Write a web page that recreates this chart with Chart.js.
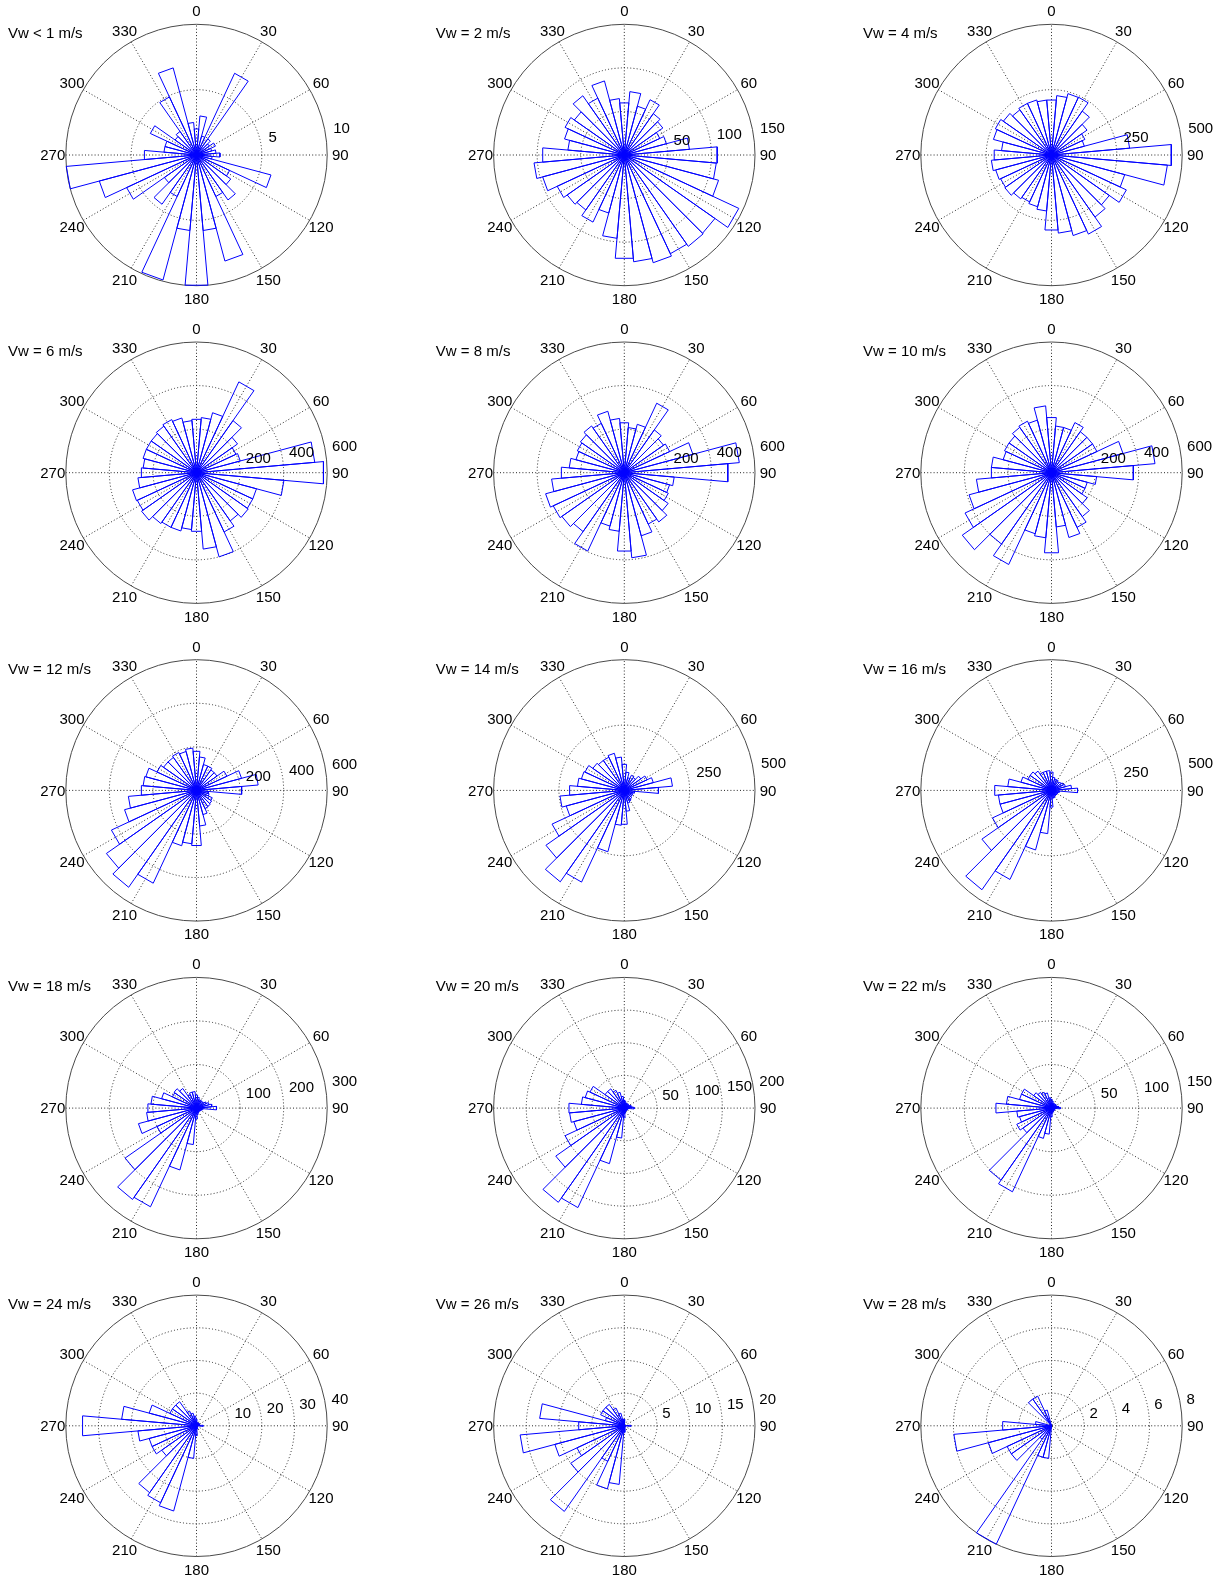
<!DOCTYPE html>
<html lang="en">
<head>
<meta charset="UTF-8">
<title>Wind direction roses by wind speed</title>
<script src="https://cdn.jsdelivr.net/npm/chart.js@4.4.1/dist/chart.umd.min.js"></script>
<style>
  html, body { margin: 0; padding: 0; background: #fff; }
  body { width: 1230px; height: 1578px; position: relative; overflow: hidden; }
  canvas { position: absolute; }
</style>
</head>
<body>
<script>
// direction bins (deg, clockwise from north), 10 deg wide
const dirBins = [0,10,20,30,40,50,60,70,80,90,100,110,120,130,140,150,160,170,
                 180,190,200,210,220,230,240,250,260,270,280,290,300,310,320,330,340,350];
const angleLabels = [0,30,60,90,120,150,180,210,240,270,300,330];

const speedLabels = ['Vw < 1 m/s','Vw = 2 m/s','Vw = 4 m/s','Vw = 6 m/s','Vw = 8 m/s','Vw = 10 m/s',
                     'Vw = 12 m/s','Vw = 14 m/s','Vw = 16 m/s','Vw = 18 m/s','Vw = 20 m/s','Vw = 22 m/s',
                     'Vw = 24 m/s','Vw = 26 m/s','Vw = 28 m/s'];

// ring tick values per panel (last one = outer circle)
const ringTicks = [[5,10],[50,100,150],[250,500],[200,400,600],[200,400,600],[200,400,600],
                   [200,400,600],[250,500],[250,500],[100,200,300],[50,100,150,200],[50,100,150],
                   [10,20,30,40],[5,10,15,20],[2,4,6,8]];

// counts per direction bin
const vw1  = [2,3,1.5,6.9,1.5,1.2,1.6,1.2,1.5,1.8,1.2,5.9,2.8,3.2,4.2,3.5,8.4,5.8,10,5.8,9.9,3.5,4.6,3,5.9,7.7,10,4,2.5,2.5,3.9,2,2.2,4.9,6.9,2.5];
const vw2  = [60,73,58,70,58,54,45,50,75,107,106,112,145,127,128,125,128,123,119,96,69,85,77,80,85,97,104,94,65,71,75,70,83,72,88,65];
const vw4  = [211,228,243,244,205,166,141,130,300,460,445,290,316,270,290,334,319,300,288,215,205,198,205,218,215,221,231,220,192,230,237,225,211,218,218,211];
const vw6  = [246,254,285,460,292,230,200,208,545,585,403,285,285,290,270,300,400,352,270,262,277,277,285,308,300,304,270,254,246,254,254,254,261,269,260,240];
const vw8  = [230,208,230,352,240,220,230,326,530,477,230,215,223,246,276,260,300,392,361,270,254,397,330,350,360,374,335,290,254,230,238,246,262,250,292,250];
const vw10 = [254,215,215,254,230,230,230,340,477,377,208,170,170,200,246,277,308,250,369,300,290,465,400,500,438,392,346,277,277,230,238,238,254,261,250,308];
const vw12 = [180,154,123,123,115,115,154,214,284,208,55,60,80,85,90,92,115,164,254,246,263,470,543,505,431,342,314,254,246,241,200,185,185,192,185,195];
const vw14 = [100,70,50,64,60,77,96,115,185,131,40,35,35,35,40,45,50,80,130,134,243,387,427,366,305,230,247,210,180,170,166,147,140,140,147,128];
const vw16 = [70,50,45,45,40,45,50,55,77,100,30,25,25,25,25,25,30,30,64,166,236,376,464,325,249,204,204,218,168,121,100,100,90,76,76,76];
const vw18 = [30,25,20,20,20,20,25,30,35,46,15,12,10,10,10,10,12,15,25,84,147,250,256,200,100,138,115,112,105,83,61,63,55,34,38,38];
const vw20 = [12,10,8,8,8,8,8,10,12,15,6,5,5,5,5,5,6,8,15,46,88,168,176,128,100,80,84,85,66,62,58,36,36,30,25,18];
const vw22 = [10,8,6,6,6,6,6,6,8,10,4,4,4,4,4,4,5,6,10,30,36,106,101,40,44,38,40,64,52,38,38,25,22,20,18,12];
const vw24 = [2,1,1,1,1,1,1,1,1,2,0,0,0,0,0,0,1,1,3,10,27,26,25,13,15,15,18,35,23,15,9,9,9,5,4,3];
const vw26 = [1,0,0,0,0,0,0,0,0,1,0,0,0,0,0,0,0,0,1,9,10,6,16,10,8,11,16,7,13,3,4,4,4,3,2,1];
const vw28 = [0,0,0,0,0,0,0,0,0,0,0,0,0,0,0,0,0,0,0,2,2,8,1,3,3,4,6,3,1,0,0,0,2,2,1,0];

const panels = [vw1,vw2,vw4,vw6,vw8,vw10,vw12,vw14,vw16,vw18,vw20,vw22,vw24,vw26,vw28];

// layout (px)
const colX = [196.5, 624.3, 1051.5];
const rowY0 = 155, rowStep = 317.7;
const RPX = 130.7;   // radius of outer circle
const HALF = 150;    // half size of chart area
const CW = 420, CH = 318;
const FONT = "15px 'Liberation Sans', Arial, Helvetica, sans-serif";

// build rose outline: origin -> edge1 -> edge2 -> origin, for every bin
function roseLine(counts) {
    const pts = [{x: 0, y: 0}];
    counts.forEach((v, k) => {
        if (!v) return;
        const a1 = (dirBins[k] - 5) * Math.PI / 180;
        const a2 = (dirBins[k] + 5) * Math.PI / 180;
        pts.push({x: v * Math.sin(a1), y: v * Math.cos(a1)},
                 {x: v * Math.sin(a2), y: v * Math.cos(a2)},
                 {x: 0, y: 0});
    });
    return pts;
}

const polarGrid = {
    id: 'polarGrid',
    beforeDatasetsDraw(chart, args, opts) {
        const {ctx, scales: {x, y}} = chart;
        const cx = x.getPixelForValue(0), cy = y.getPixelForValue(0);
        const R = opts.ticks[opts.ticks.length - 1];
        const rp = v => x.getPixelForValue(v) - cx;
        ctx.save();
        ctx.lineWidth = 1;
        ctx.strokeStyle = '#262626';
        ctx.setLineDash([1, 2.2]);
        // spokes every 30 deg
        for (let a = 0; a < 180; a += 30) {
            const t = a * Math.PI / 180;
            ctx.beginPath();
            ctx.moveTo(cx - rp(R) * Math.sin(t), cy + rp(R) * Math.cos(t));
            ctx.lineTo(cx + rp(R) * Math.sin(t), cy - rp(R) * Math.cos(t));
            ctx.stroke();
        }
        // inner rings dotted
        opts.ticks.slice(0, -1).forEach(v => {
            ctx.beginPath();
            ctx.arc(cx, cy, rp(v), 0, 2 * Math.PI);
            ctx.stroke();
        });
        // outer ring solid
        ctx.setLineDash([]);
        ctx.strokeStyle = '#4a4a4a';
        ctx.beginPath();
        ctx.arc(cx, cy, rp(R), 0, 2 * Math.PI);
        ctx.stroke();
        ctx.restore();
    },
    afterDraw(chart, args, opts) {
        const {ctx, scales: {x, y}} = chart;
        const cx = x.getPixelForValue(0), cy = y.getPixelForValue(0);
        const R = opts.ticks[opts.ticks.length - 1];
        const rinc = opts.ticks[0];
        const rp = v => x.getPixelForValue(v) - cx;
        ctx.save();
        ctx.font = FONT;
        ctx.fillStyle = '#000';
        // direction labels
        ctx.textAlign = 'center';
        ctx.textBaseline = 'middle';
        angleLabels.forEach(a => {
            const t = a * Math.PI / 180, r = rp(1.1 * R);
            ctx.fillText(String(a), cx + r * Math.sin(t), cy - r * Math.cos(t) + 1);
        });
        // ring labels at 82 deg
        ctx.textAlign = 'left';
        ctx.textBaseline = 'bottom';
        const t82 = 82 * Math.PI / 180;
        opts.ticks.forEach(v => {
            const r = rp(v + rinc / 20);
            ctx.fillText(String(v), cx + r * Math.sin(t82) + 4, cy - r * Math.cos(t82));
        });
        // panel title
        ctx.textBaseline = 'middle';
        ctx.fillText(opts.title, cx - 188.5, cy - 121);
        ctx.restore();
    }
};

panels.forEach((counts, i) => {
    const cx = colX[i % 3];
    const cy = rowY0 + Math.floor(i / 3) * rowStep;
    const left = Math.round(cx - CW / 2), top = Math.round(cy - CH / 2);
    const cv = document.createElement('canvas');
    cv.width = CW; cv.height = CH;
    cv.style.left = left + 'px';
    cv.style.top = top + 'px';
    document.body.appendChild(cv);

    const ticks = ringTicks[i];
    const R = ticks[ticks.length - 1];
    const lim = R * HALF / RPX;

    new Chart(cv, {
        type: 'scatter',
        data: {
            datasets: [{
                data: roseLine(counts),
                showLine: true,
                borderColor: '#0000ff',
                borderWidth: 1,
                pointRadius: 0,
                tension: 0,
                fill: false
            }]
        },
        options: {
            responsive: false,
            animation: false,
            events: [],
            layout: {
                padding: {
                    left: cx - HALF - left,
                    right: CW - (cx + HALF - left),
                    top: cy - HALF - top,
                    bottom: CH - (cy + HALF - top)
                }
            },
            scales: {
                x: {type: 'linear', min: -lim, max: lim, display: false},
                y: {type: 'linear', min: -lim, max: lim, display: false}
            },
            plugins: {
                legend: {display: false},
                tooltip: {enabled: false},
                polarGrid: {ticks: ticks, title: speedLabels[i]}
            }
        },
        plugins: [polarGrid]
    });
});
</script>
</body>
</html>
